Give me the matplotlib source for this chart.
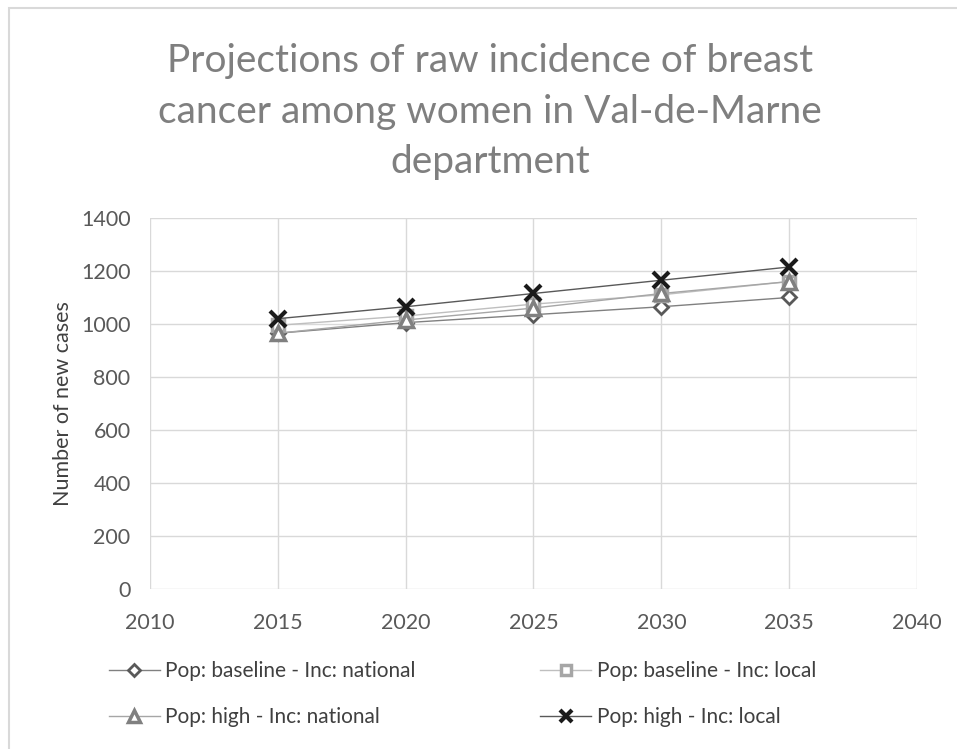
import matplotlib
matplotlib.use('Agg')
import matplotlib.pyplot as plt
from matplotlib.patches import Rectangle

plt.rcParams['font.family'] = ['Lato', 'DejaVu Sans']

# Data
years = [2015, 2020, 2025, 2030, 2035]
base_national = [965, 1005, 1035, 1065, 1100]
base_local = [995, 1030, 1075, 1110, 1160]
high_national = [965, 1015, 1060, 1115, 1160]
high_local = [1020, 1065, 1115, 1165, 1215]

x_ticks = [2010, 2015, 2020, 2025, 2030, 2035, 2040]
y_ticks = [0, 200, 400, 600, 800, 1000, 1200, 1400]

title = "Projections of raw incidence of breast\ncancer among women in Val-de-Marne\ndepartment"

fig = plt.figure(figsize=(9.57, 7.49), dpi=100)
ax = fig.add_axes([0.1567, 0.2136, 0.8015, 0.4954])

# Chart-area border (Excel style)
fig.patches.append(Rectangle((9 / 957, -0.1), 1.1, 1 - 8 / 749 + 0.1,
                             transform=fig.transFigure, fill=False,
                             edgecolor='#d9d9d9', linewidth=1.5))

h1, = ax.plot(years, base_national, color='#808080', lw=1.0, marker='D',
              ms=7.5, mfc='white', mec='#595959', mew=2.0,
              label='Pop: baseline - Inc: national')
h2, = ax.plot(years, base_local, color='#bfbfbf', lw=1.0, marker='s',
              ms=8.5, mfc='white', mec='#a6a6a6', mew=2.5,
              label='Pop: baseline - Inc: local')
h3, = ax.plot(years, high_national, color='#a6a6a6', lw=1.0, marker='^',
              ms=9.5, mfc='white', mec='#808080', mew=2.5,
              label='Pop: high - Inc: national')
h4, = ax.plot(years, high_local, color='#595959', lw=1.0, marker='x',
              ms=11, mec='#1a1a1a', mew=3.0,
              label='Pop: high - Inc: local')

ax.set_xlim(2010, 2040)
ax.set_ylim(0, 1400)
ax.set_xticks(x_ticks)
ax.set_yticks(y_ticks)
ax.grid(True, color='#d9d9d9', linewidth=1.0)
ax.set_axisbelow(True)
for s in ax.spines.values():
    s.set_visible(False)
ax.tick_params(length=0, labelsize=15.5, colors='#595959')
ax.tick_params(axis='y', pad=14)
ax.tick_params(axis='x', pad=17)
ax.set_ylabel('Number of new cases', fontsize=15.5, color='#404040', labelpad=6)

fig.text(0.512, 0.942, title, ha='center', va='top', fontsize=28,
         color='#7f7f7f', linespacing=1.5)

fig.legend(handles=[h1, h3, h2, h4], ncol=2, loc='upper left',
           bbox_to_anchor=(0.094, 0.142), frameon=False, fontsize=15,
           labelcolor='#404040', handlelength=2.45, handletextpad=0.25,
           columnspacing=6.0, labelspacing=1.25, markerscale=0.85)

plt.savefig('out.png', dpi=100)
plt.close()
